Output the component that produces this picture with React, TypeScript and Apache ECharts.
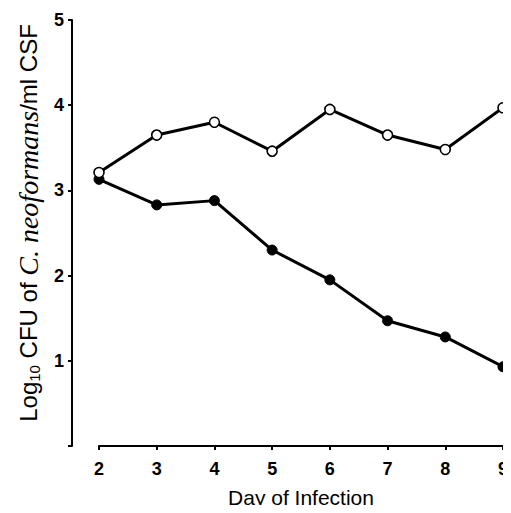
import React, { useEffect, useRef } from "react";
import * as echarts from "echarts";

const days = [2, 3, 4, 5, 6, 7, 8, 9];
const openSeries = [3.21, 3.65, 3.8, 3.46, 3.95, 3.65, 3.48, 3.97];
const filledSeries = [3.13, 2.83, 2.88, 2.3, 1.95, 1.47, 1.28, 0.93];
const yTicks = [1, 2, 3, 4, 5];

export default function App() {
  const ref = useRef<HTMLDivElement>(null);
  useEffect(() => {
    if (!ref.current) return;
    const chart = echarts.init(ref.current, null, { renderer: "svg" });
    const font = "'Liberation Sans', Arial, sans-serif";
    chart.setOption({
      animation: false,
      grid: { left: 99, right: 6, top: 20, bottom: 63, containLabel: false },
      xAxis: {
        type: "value",
        min: 2,
        max: 9,
        interval: 1,
        offset: 2,
        name: "Day of Infection",
        nameLocation: "middle",
        nameGap: 39,
        nameTextStyle: { fontFamily: font, fontSize: 21, color: "#000" },
        axisLine: { show: true, lineStyle: { color: "#000", width: 2 } },
        axisTick: { show: true, length: 4, lineStyle: { color: "#000", width: 2 } },
        axisLabel: { fontFamily: font, fontWeight: "bold", fontSize: 18, color: "#000", margin: 12 },
        splitLine: { show: false },
      },
      yAxis: {
        type: "value",
        min: 0,
        max: 5,
        interval: 1,
        offset: 27,
        name: "{a|Log}{sub|10}{a| CFU of }{i|C. neoformans}{a|/ml CSF}",
        nameLocation: "middle",
        nameGap: 30,
        nameTextStyle: {
          fontFamily: font,
          fontSize: 24,
          color: "#000",
          padding: [0, 0, 0, 20],
          rich: {
            a: { fontFamily: font, fontSize: 24, color: "#000" },
            sub: { fontFamily: font, fontSize: 15, color: "#000", verticalAlign: "bottom", padding: [11, 0, 0, 0] },
            i: { fontFamily: "'Liberation Serif', serif", fontStyle: "italic", fontSize: 28, color: "#000" },
          },
        },
        axisLine: { show: true, lineStyle: { color: "#000", width: 2 } },
        axisTick: { show: true, length: 4, lineStyle: { color: "#000", width: 2 } },
        axisLabel: {
          fontFamily: font,
          fontWeight: "bold",
          fontSize: 18,
          color: "#000",
          margin: 8,
          formatter: (v: number) => (yTicks.includes(v) ? String(v) : ""),
        },
        splitLine: { show: false },
      },
      series: [
        {
          type: "line",
          data: days.map((d, i) => [d, openSeries[i]]),
          symbol: "circle",
          symbolSize: 10,
          itemStyle: { color: "#fff", borderColor: "#000", borderWidth: 1.6 },
          lineStyle: { color: "#000", width: 3 },
          z: 3,
        },
        {
          type: "line",
          data: days.map((d, i) => [d, filledSeries[i]]),
          symbol: "circle",
          symbolSize: 10,
          itemStyle: { color: "#000", borderColor: "#000", borderWidth: 1 },
          lineStyle: { color: "#000", width: 3 },
          z: 2,
        },
      ],
    });
    return () => chart.dispose();
  }, []);
  return <div ref={ref} style={{ width: 511, height: 513, margin: -8 }} />;
}
